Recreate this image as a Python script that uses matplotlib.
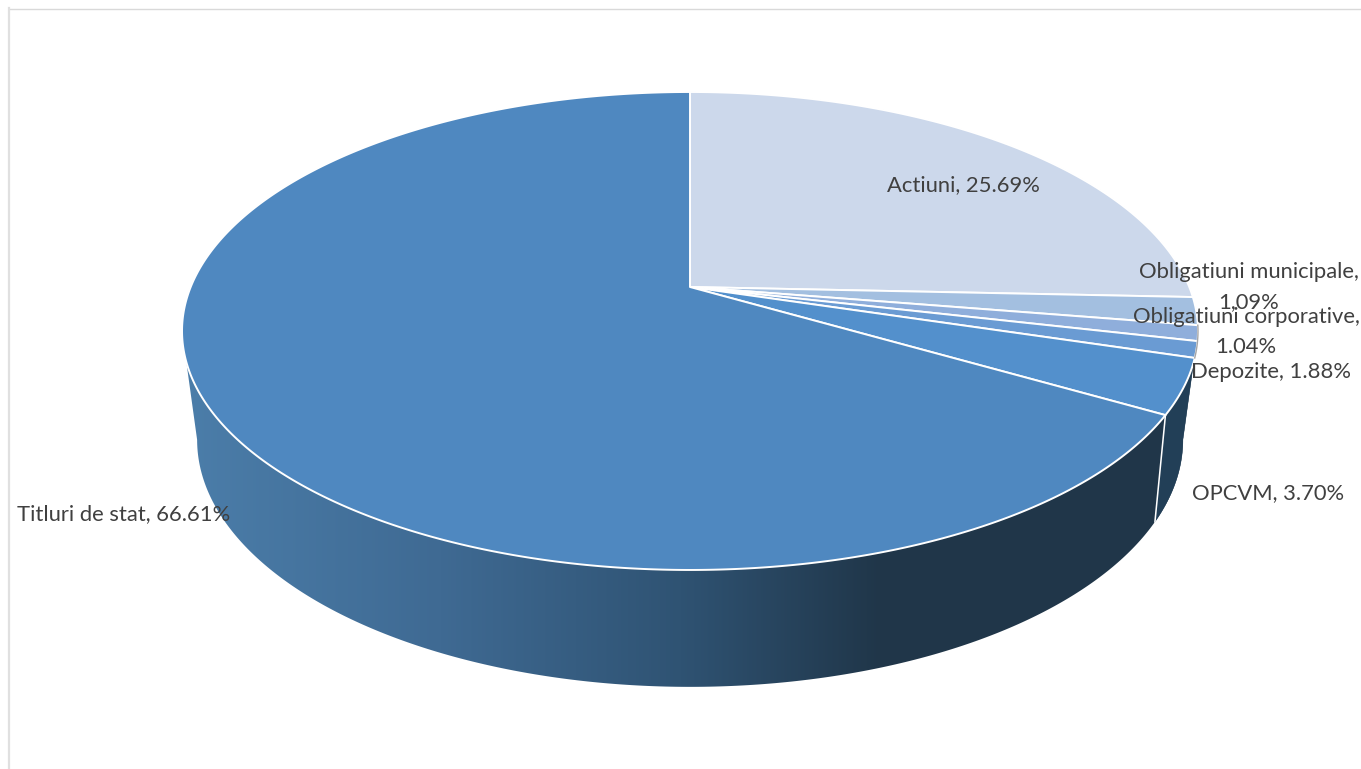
import numpy as np
from matplotlib import pyplot as plt
from matplotlib.patches import Polygon
from matplotlib.colors import to_rgb

# the printed labels swap two numbers compared with the slices actually drawn
labels = ['Actiuni, 25.69%', 'Obligatiuni municipale,\n1,09%',
          'Obligatiuni corporative,\n1.04%', 'Depozite, 1.88%',
          'OPCVM, 3.70%', 'Titluri de stat, 66.61%']
values = [25.69, 1.88, 1.04, 1.09, 3.70, 66.61]
colors = ['#CCD8EB', '#A3BFE0', '#8FAEDB', '#6A9BD3', '#5390CC', '#4F88C0']
label_x = [963, 1249, 1246, 1271, 1268, 124]
label_y = [185, 287, 332, 372, 493, 514]

plt.rcParams['font.family'] = ['Lato', 'DejaVu Sans']

# perspective of the disc: top face and bottom rim
TOP = dict(a=499.3, b=230.9, k=0.184, cx=690, cy=287)
LOW = dict(a=482.3, b=236.5, k=0.206, cx=690, cy=389)
WHITE_LW = 1.4


def project(clock_deg, p):
    t = np.radians(clock_deg)
    x, y = np.sin(t), np.cos(t)
    d = 1 + p['k'] * y
    return p['cx'] + p['a'] * x / d, p['cy'] - p['b'] * y / d


def tangent(p):
    return np.degrees(np.arccos(-p['k']))


def wall(a0_top, a1_top, a0_low, a1_low):
    xt, yt = project(np.linspace(a0_top, a1_top, 300), TOP)
    xl, yl = project(np.linspace(a1_low, a0_low, 300), LOW)
    return list(zip(xt, yt)) + list(zip(xl, yl))


fig = plt.figure(figsize=(13.61, 7.69), dpi=100)
ax = fig.add_axes([0, 0, 1, 1])
ax.axis('off')

# chart frame (only top and left are visible in the crop)
ax.plot([9, 1361], [8.5, 8.5], color='#D9D9D9', lw=1.0)
ax.plot([9.5, 9.5], [8, 769], color='#E0E0E0', lw=1.6)

ends = np.cumsum(values) / sum(values) * 360
starts = np.concatenate([[0], ends[:-1]])
opcvm_end = ends[4]

# side wall: horizontal gradient clipped to the outline
stops = [190, 440, 680, 880]
stop_rgb = np.array([to_rgb(c) for c in ['#4B7DA9', '#3F6A93', '#2F5373', '#203649']])
grad_x = np.arange(170, 1210)
grad = np.stack([np.interp(grad_x, stops, stop_rgb[:, i]) for i in range(3)], axis=1)
im = ax.imshow(grad[None, :, :], extent=(170, 1210, 720, 280), aspect='auto', zorder=2)
outline = Polygon(wall(tangent(TOP), 360 - tangent(TOP), tangent(LOW), 360 - tangent(LOW)),
                  closed=True, transform=ax.transData, facecolor='none', edgecolor='none')
ax.add_patch(outline)
im.set_clip_path(outline)

ax.add_patch(Polygon(wall(tangent(TOP), opcvm_end, tangent(LOW), opcvm_end), closed=True,
                     facecolor='#223F57', edgecolor='#223F57', lw=0.3, zorder=3))

x_top, y_top = project(opcvm_end, TOP)
x_low, y_low = project(opcvm_end, LOW)
ax.plot([x_top, x_low], [y_top, y_low], color='white', lw=WHITE_LW * 0.8, zorder=3)

# top face
for s, e, c in zip(starts, ends, colors):
    t = np.linspace(s, e, max(int(e - s) * 3, 12))
    xs, ys = project(t, TOP)
    pts = [(TOP['cx'], TOP['cy'])] + list(zip(xs, ys))
    ax.add_patch(Polygon(pts, closed=True, facecolor=c, edgecolor='white',
                         lw=WHITE_LW, joinstyle='round', zorder=4))

# grey sliver of the wall along the two thin slices
xs, ys = project(np.linspace(ends[1], ends[3], 20), TOP)
ax.plot(xs, ys, color='#A6A6A6', lw=1.0, zorder=4)

for txt, x, y in zip(labels, label_x, label_y):
    ax.text(x, y, txt, ha='center', va='center', fontsize=15.8, color='#404040',
            linespacing=1.65, zorder=5)

ax.set_xlim(0, 1361)
ax.set_ylim(769, 0)
fig.savefig('out.png', dpi=100, facecolor='white')
